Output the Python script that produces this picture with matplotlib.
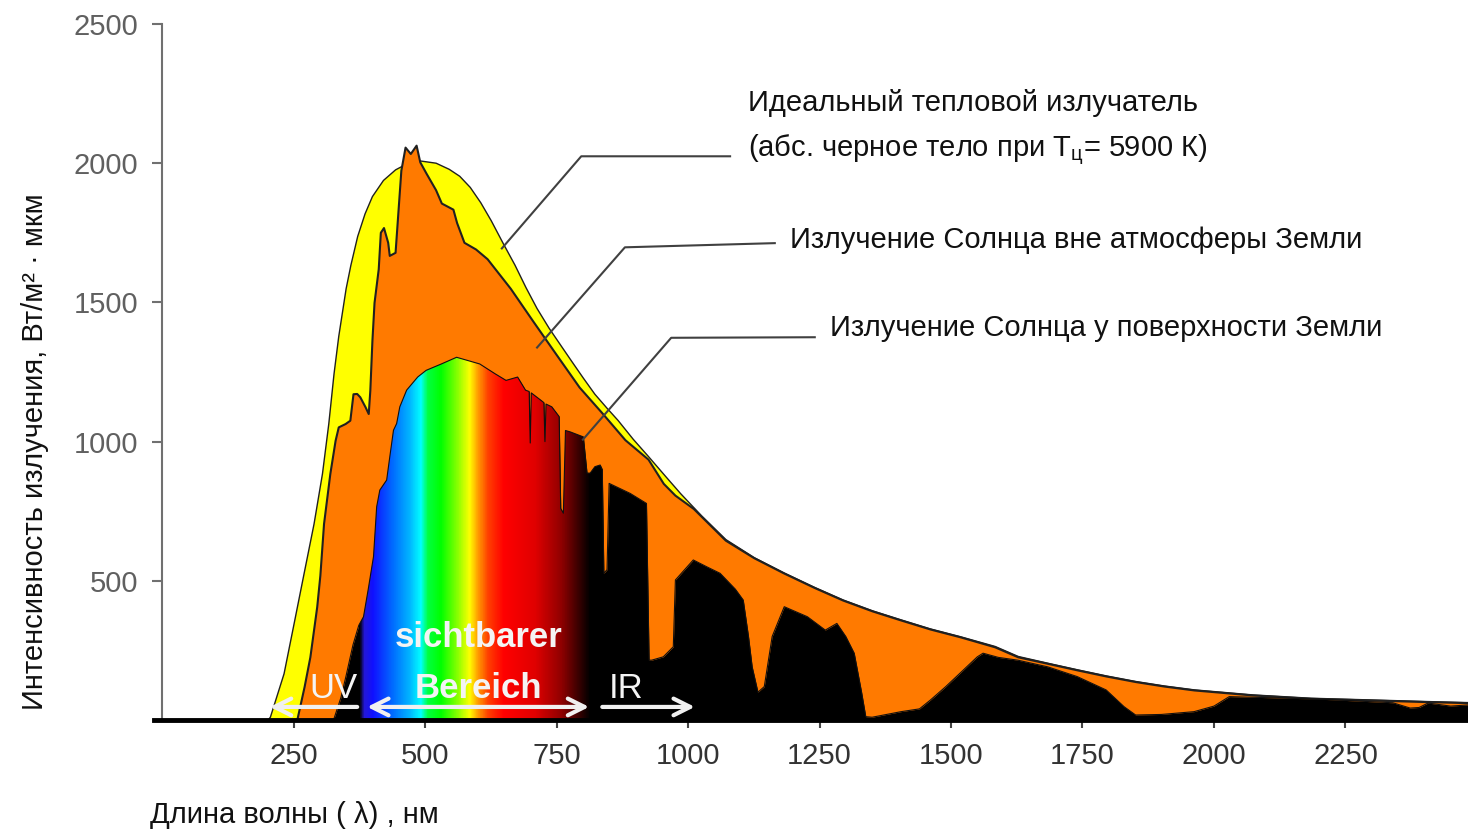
import matplotlib
matplotlib.use('Agg')
import matplotlib.pyplot as plt
import numpy as np
from matplotlib import font_manager
from matplotlib.colors import LinearSegmentedColormap
from matplotlib.lines import Line2D

# --- data (nm, W/m2 per um) ---
bb_nm = [200, 205, 231, 250, 269, 288, 304, 316, 326, 335, 349, 358, 371, 385, 399, 420, 443,
         465, 490, 520, 545, 565, 585, 605, 625, 647, 670, 691, 712, 735, 757, 778, 800, 822,
         845, 866, 895, 924, 955, 985, 1025, 1071, 1125, 1182, 1240, 1294, 1350, 1405, 1460,
         1517, 1583, 1627, 1685, 1740, 1795, 1851, 1905, 1962, 2073, 2184, 2296, 2407, 2490]
bb_val = [0, 12, 168, 347, 527, 706, 886, 1065, 1245, 1380, 1551, 1635, 1739, 1820, 1882, 1940, 1978,
          2000, 2010, 2002, 1980, 1955, 1915, 1860, 1795, 1716, 1636, 1555, 1480, 1409, 1348, 1290, 1230, 1172,
          1122, 1078, 1010, 948, 880, 815, 735, 650, 585, 530, 478, 433, 394, 361, 329,
          301, 266, 230, 205, 182, 160, 140, 124, 110, 92, 80, 74, 68, 64]

am0_nm = [256, 270, 281, 294, 300, 307, 319, 329, 335, 348, 357, 363, 370, 376, 386, 392,
          395, 399, 403, 411, 415, 421, 429, 432, 443, 454, 462, 472, 483, 490, 502, 520,
          531, 553, 560, 574, 596, 618, 662, 705, 749, 793, 837, 880, 924, 953, 975, 1010,
          1071, 1125, 1182, 1240, 1294, 1350, 1405, 1460, 1517, 1583, 1627, 1685, 1740, 1795, 1851,
          1905, 1962, 2073, 2184, 2296, 2407, 2490]
am0_val = [0, 120, 227, 407, 520, 706, 886, 1005, 1053, 1065, 1077, 1172, 1173, 1161, 1125, 1101,
           1185, 1364, 1500, 1621, 1752, 1769, 1716, 1669, 1680, 1975, 2058, 2035, 2065, 2005, 1964, 1905,
           1857, 1835, 1787, 1716, 1692, 1657, 1551, 1433, 1314, 1196, 1102, 1007, 937, 850, 808, 760,
           646, 583, 528, 476, 431, 392, 359, 327, 299, 263, 227, 203, 180, 158, 138,
           122, 108, 90, 78, 72, 66, 62]

am15_nm = [326, 340, 350, 363, 374, 383, 392, 402, 408, 414, 427, 433, 440, 446, 452, 465,
           486, 502, 531, 560, 582, 604, 633, 654, 676, 691, 698, 700, 702, 720, 726, 728,
           730, 741, 755, 758, 763, 767, 776, 801, 808, 814, 823, 833, 837, 840, 846, 850,
           890, 921, 926, 931, 953, 972, 976, 1010, 1035, 1061, 1090, 1105, 1115, 1122, 1133,
           1145, 1160, 1183, 1227, 1261, 1283, 1300, 1316, 1330, 1338, 1350, 1405, 1440, 1461,
           1490, 1517, 1550, 1561, 1590, 1627, 1684, 1740, 1795, 1829, 1851, 1900, 1962, 2000,
           2029, 2129, 2200, 2296, 2340, 2373, 2390, 2407, 2450, 2490]
am15_val = [0, 80, 160, 270, 340, 371, 470, 587, 766, 826, 862, 946, 1041, 1065, 1125, 1185,
            1232, 1256, 1279, 1303, 1291, 1279, 1244, 1220, 1232, 1185, 1180, 995, 1175, 1149, 1140, 1000,
            1135, 1125, 1090, 760, 743, 1040, 1035, 1017, 887, 887, 910, 916, 900, 527, 540, 850,
            814, 778, 215, 215, 227, 263, 503, 575, 551, 527, 470, 431, 300, 191, 100,
            120, 300, 407, 371, 323, 347, 300, 240, 100, 12, 10, 30, 40, 72,
            120, 168, 227, 240, 225, 215, 191, 156, 108, 48, 18, 20, 30, 50,
            84, 79, 75, 66, 62, 43, 45, 61, 50, 55]

x_ticks = [250, 500, 750, 1000, 1250, 1500, 1750, 2000, 2250]
y_ticks = [500, 1000, 1500, 2000, 2500]

# colour stops of the visible band
grad_nm = [375, 384, 400, 440, 470, 492, 505, 530, 560, 585, 600, 620, 650, 710, 760, 815, 840]
grad_col = ['#000000', '#2418d8', '#1010ff', '#0070ff', '#00b4ff', '#00ffff', '#00ff40', '#00ff00',
            '#80ff00', '#ffff00', '#ffa000', '#ff4000', '#ff0000', '#e00000', '#900000', '#000000',
            '#000000']

names = {f.name for f in font_manager.fontManager.ttflist}
narrow = 'Liberation Sans Narrow' if 'Liberation Sans Narrow' in names else None
plt.rcParams['font.family'] = ['Liberation Sans', 'DejaVu Sans']
plt.rcParams['mathtext.fontset'] = 'custom'
plt.rcParams['mathtext.rm'] = 'Liberation Sans'

fig = plt.figure(figsize=(14.68, 8.35), dpi=100)
ax = fig.add_axes([0.1104, 0.1377, 0.8896, 0.8335])

ax.fill_between(bb_nm, bb_val, color='#ffff00', edgecolor='#202020', lw=1.0, zorder=1)
ax.fill_between(am0_nm, am0_val, color='#ff7a00', edgecolor='#202020', lw=1.5, zorder=2)
surf = ax.fill_between(am15_nm, am15_val, color='black', lw=0, zorder=3)

cmap = LinearSegmentedColormap.from_list(
    'vis', [((n - grad_nm[0]) / (grad_nm[-1] - grad_nm[0]), c) for n, c in zip(grad_nm, grad_col)])
img = ax.imshow(np.linspace(0, 1, 400)[None, :], cmap=cmap, aspect='auto',
                extent=[grad_nm[0], grad_nm[-1], 0, 1400], origin='lower', zorder=4)
img.set_clip_path(surf.get_paths()[0], transform=ax.transData)
ax.plot(am15_nm, am15_val, color='#101010', lw=0.8, zorder=5)

ax.set_xlim(0, 2483)
ax.set_ylim(0, 2500)

# leader lines and labels
ax.plot([646, 797, 1080], [1694, 2025, 2025], color='#404040', lw=1.5, zorder=6, clip_on=False)
ax.plot([713, 880, 1165], [1338, 1698, 1713], color='#404040', lw=1.5, zorder=6, clip_on=False)
ax.plot([800, 968, 1241], [1007, 1373, 1375], color='#404040', lw=1.5, zorder=6, clip_on=False)
ax.text(1114, 2215, 'Идеальный тепловой излучатель', fontsize=21, va='center', color='#111111')
ax.text(1114, 2047, '(абс. черное тело при T$_\\mathregular{ц}$= 5900 К)', fontsize=21,
        va='center', color='#111111')
ax.text(1194, 1724, 'Излучение Солнца вне атмосферы Земли', fontsize=21, va='center', color='#111111')
ax.text(1270, 1408, 'Излучение Солнца у поверхности Земли', fontsize=21, va='center', color='#111111')

# region labels and arrows
ax.text(601, 298, 'sichtbarer', fontsize=25, fontweight='bold', color='#f4f4f4',
        ha='center', va='center', zorder=8)
ax.text(601, 115, 'Bereich', fontsize=25, fontweight='bold', color='#f4f4f4',
        ha='center', va='center', zorder=8)
ax.text(325, 115, 'UV', fontsize=25, color='#f4f4f4', ha='center', va='center', zorder=8)
ax.text(882, 115, 'IR', fontsize=25, color='#f4f4f4', ha='center', va='center', zorder=8)
arrow = dict(arrowstyle='->', color='#f0f0f0', lw=3, mutation_scale=30, shrinkA=0, shrinkB=0)
ax.annotate('', xy=(205, 47), xytext=(371, 47), arrowprops=arrow, zorder=8)
ax.annotate('', xy=(1013, 47), xytext=(837, 47), arrowprops=arrow, zorder=8)
ax.annotate('', xy=(812, 47), xytext=(390, 47),
            arrowprops=dict(arrow, arrowstyle='<->'), zorder=8)

# axes styling
for s in ['top', 'right']:
    ax.spines[s].set_visible(False)
ax.spines['left'].set_color('#707070')
ax.spines['left'].set_linewidth(1.5)
ax.spines['bottom'].set_visible(False)
ax.add_line(Line2D([-0.006, 1], [0, 0], transform=ax.transAxes, color='black', lw=3.5,
                   clip_on=False, zorder=9))

ax.set_xticks(x_ticks)
if narrow:
    ax.set_xticklabels([str(t) for t in x_ticks], fontfamily=narrow, fontsize=25)
else:
    ax.set_xticklabels([str(t) for t in x_ticks], fontsize=21)
ax.tick_params(axis='x', colors='#444444', labelcolor='#333333', length=6, width=1.5, pad=10)
ax.set_yticks(y_ticks)
ax.set_yticklabels([str(t) for t in y_ticks], fontsize=21)
ax.tick_params(axis='y', colors='#707070', labelcolor='#606060', length=7, width=1.5, pad=10)

lab_font = dict(fontfamily=narrow, fontsize=23) if narrow else dict(fontsize=21)
fig.text(150 / 1468, 1 - 815 / 835, 'Длина волны ( λ) , нм', va='center', ha='left',
         color='#111111', **lab_font)
fig.text(35 / 1468, 1 - 452 / 835, 'Интенсивность излучения, Вт/м² · мкм', rotation=90,
         va='center', ha='center', color='#111111', **lab_font)

fig.savefig('out.png', dpi=100)
